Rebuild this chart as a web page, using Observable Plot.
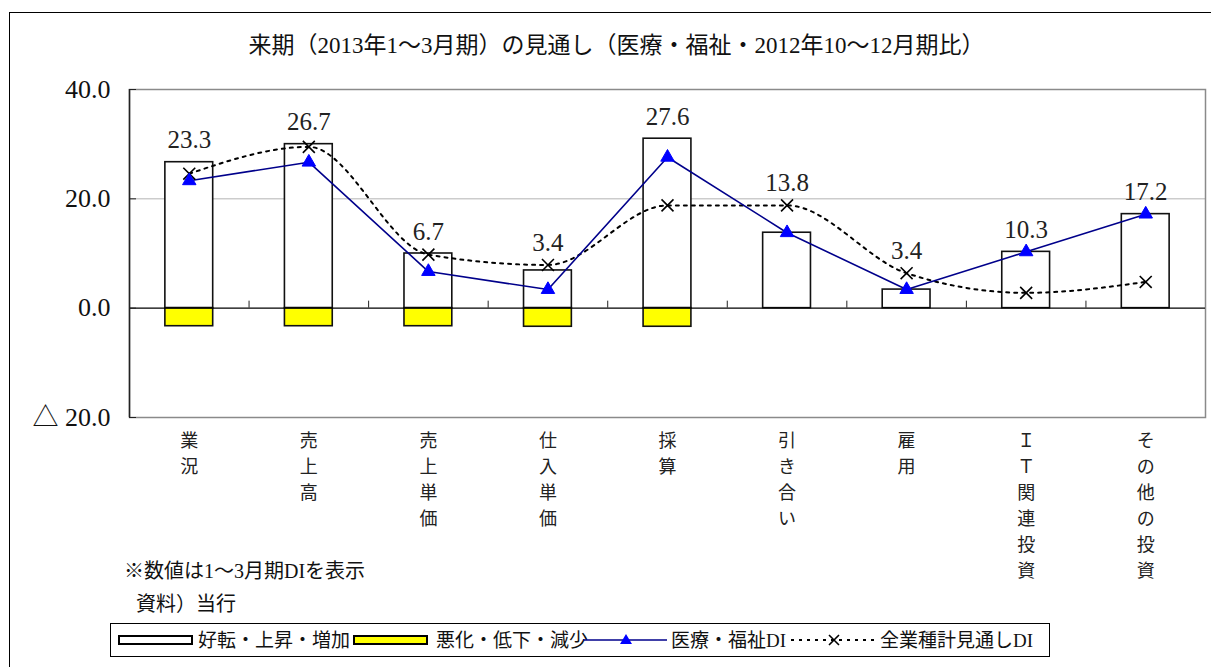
<!DOCTYPE html>
<html><head><meta charset="utf-8">
<script src="https://cdn.jsdelivr.net/npm/d3@7"></script>
<script src="https://cdn.jsdelivr.net/npm/@observablehq/plot@0.6"></script>
<style>
body{margin:0;background:#fff;width:1211px;height:667px;overflow:hidden;position:relative;font-family:"Liberation Serif","Noto Sans CJK JP",serif;color:#111}
#frame{position:absolute;left:9px;top:12px;width:1300px;height:800px;border:1.5px solid #000;box-sizing:border-box}
#chart{position:absolute;left:0;top:0}
#title{position:absolute;left:0;width:1233px;top:31px;text-align:center;font-size:23px;line-height:30px}
.note{position:absolute;font-size:20px;line-height:24px}
#legend{position:absolute;left:110px;top:623px;width:940px;height:34px;border:1px solid #000;box-sizing:border-box;font-size:19px}
#legend .it{position:absolute;top:4px;line-height:26px;white-space:nowrap}
#legend .sw{position:absolute;top:11px;width:75px;height:10px;border:2px solid #000;box-sizing:border-box}
#legend svg{position:absolute;top:0}
</style></head>
<body>
<div id="frame"></div>
<div id="chart"></div>
<div id="title">来期（2013年1～3月期）の見通し（医療・福祉・2012年10～12月期比）</div>
<div class="note" style="left:124px;top:559px">※数値は1～3月期DIを表示</div>
<div class="note" style="left:136px;top:592px">資料）当行</div>
<div id="legend"></div>
<script>
const categories = ["業況","売上高","売上単価","仕入単価","採算","引き合い","雇用","ＩＴ関連投資","その他の投資"];
const improve = [26.7, 30.0, 10.0, 6.9, 31.0, 13.8, 3.4, 10.3, 17.2];
const worsen = [-3.3, -3.3, -3.3, -3.4, -3.4, 0, 0, 0, 0];
const diMedical = [23.3, 26.7, 6.7, 3.4, 27.6, 13.8, 3.4, 10.3, 17.2];
const diAll = [24.6, 29.5, 9.8, 7.9, 18.8, 18.8, 6.4, 2.8, 4.8];
const yTicks = [-20, 0, 20, 40];
const seriesNames = ["好転・上昇・増加","悪化・低下・減少","医療・福祉DI","全業種計見通しDI"];

const rows = categories.map((c, i) => ({c, i, up: improve[i], down: worsen[i], med: diMedical[i], all: diAll[i]}));
const bounds = d3.range(categories.length - 1).map(i => i + 0.5);
const fmt = v => v < 0 ? "△ " + Math.abs(v).toFixed(1) : v.toFixed(1);
const serif = '"Liberation Serif","Noto Sans CJK JP",serif';

const chart = Plot.plot({
  width: 1211, height: 667,
  marginLeft: 129, marginRight: 6, marginTop: 89, marginBottom: 250,
  x: {type: "linear", domain: [-0.5, categories.length - 0.5], axis: null},
  y: {domain: [-20, 40], axis: null},
  style: {fontFamily: serif, color: "#111", background: "transparent"},
  marks: [
    Plot.ruleY([20], {stroke: "#b4b4b4", strokeWidth: 1}),
    Plot.frame({stroke: "#8a8a8a", strokeWidth: 1.5}),
    Plot.rectY(rows, {x1: d => d.i - 0.2, x2: d => d.i + 0.2, y1: 0, y2: "up", fill: "white", stroke: "#111", strokeWidth: 1.6}),
    Plot.rectY(rows.filter(d => d.down < 0), {x1: d => d.i - 0.2, x2: d => d.i + 0.2, y1: 0, y2: "down", fill: "#ffff00", stroke: "#111", strokeWidth: 1.6}),
    Plot.ruleY([0], {stroke: "#000", strokeWidth: 1.3}),
    Plot.ruleX([-0.5], {stroke: "#222", strokeWidth: 1.5}),
    Plot.ruleX(bounds, {x: d => d, y1: 0, y2: 0, insetTop: -7, stroke: "#222"}),
    Plot.ruleY(yTicks, {y: d => d, x1: -0.5, x2: -0.5, insetRight: -7, stroke: "#222"}),
    Plot.axisY(yTicks, {tickSize: 0, tickPadding: 19, tickFormat: fmt, fontSize: 26, fill: "#111"}),
    Plot.line(rows, {x: "i", y: "all", curve: "monotone-x", stroke: "#000", strokeWidth: 2, strokeDasharray: "3,5"}),
    Plot.line(rows, {x: "i", y: "med", stroke: "#00008b", strokeWidth: 1.6}),
    Plot.dot(rows, {x: "i", y: "all", symbol: "times", r: 5.5, stroke: "#000", strokeWidth: 1.6}),
    Plot.dot(rows, {x: "i", y: "med", symbol: "triangle", r: 5, fill: "#0000ff", stroke: "#0000ff", strokeWidth: 1}),
    Plot.text(rows, {x: "i", y: d => Math.max(d.up, d.all), text: d => d.med.toFixed(1), dy: -22, fontSize: 25, fill: "#222"}),
    Plot.text(rows, {x: "i", y: -20, text: d => [...d.c].join("\n"), lineAnchor: "top", dy: 11, lineHeight: 1.44, fontSize: 18, fontFamily: '"Noto Sans CJK JP",sans-serif', fill: "#222"})
  ]
});
document.getElementById("chart").appendChild(chart);

// legend
const lg = document.getElementById("legend");
function add(html){ lg.insertAdjacentHTML("beforeend", html); }
add(`<div class="sw" style="left:7px;background:#fff"></div>`);
add(`<div class="it" style="left:87px">${seriesNames[0]}</div>`);
add(`<div class="sw" style="left:242px;background:#ffff00"></div>`);
add(`<div class="it" style="left:325px">${seriesNames[1]}</div>`);
add(`<svg style="left:472px" width="84" height="32"><line x1="0" x2="84" y1="16" y2="16" stroke="#00008b" stroke-width="1.6"/><path d="M43,10 L49,20 L37,20 Z" fill="#0000ff"/></svg>`);
add(`<div class="it" style="left:560px">${seriesNames[2]}</div>`);
add(`<svg style="left:678px" width="88" height="32"><line x1="2" x2="88" y1="16" y2="16" stroke="#000" stroke-width="2" stroke-dasharray="3,5"/><path d="M40,11 L50,21 M50,11 L40,21" stroke="#000" stroke-width="1.6" fill="none"/></svg>`);
add(`<div class="it" style="left:769px">${seriesNames[3]}</div>`);
</script>
</body></html>
